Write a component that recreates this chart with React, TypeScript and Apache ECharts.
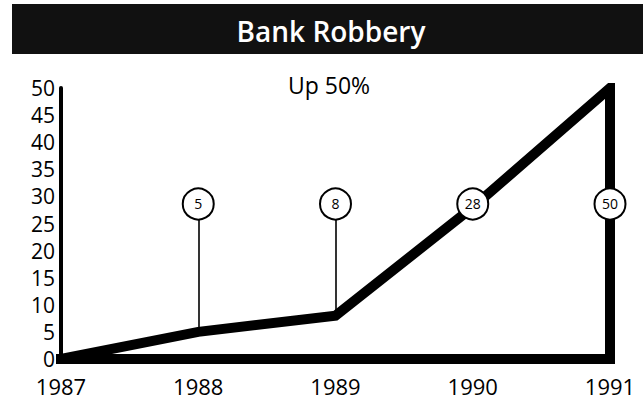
import React, { useEffect, useRef } from "react";
import * as echarts from "echarts";

const title = "Bank Robbery";
const subtitle = "Up 50%";
const years = ["1987", "1988", "1989", "1990", "1991"];
const robberies = [0, 5, 8, 28, 50];
const calloutYears = ["1988", "1989", "1990", "1991"];
const calloutValues = [5, 8, 28, 50];
const calloutLevel = 28.6;
const yMin = 0;
const yMax = 50;
const yStep = 5;

export default function App() {
  const ref = useRef<HTMLDivElement>(null);
  useEffect(() => {
    if (!ref.current) return;
    const chart = echarts.init(ref.current, null, { renderer: "svg" });
    const last = years.length - 1;
    const outline: any[] = years.map((y, i) => [y, robberies[i]]);
    outline.push([years[last], yMin]);
    outline.push([years[0], yMin]);

    const font = "Open Sans";
    chart.setOption({
      animation: false,
      backgroundColor: "#fff",
      grid: { left: 61, right: 33, top: 88, bottom: 41, containLabel: false },
      graphic: [
        {
          type: "rect",
          z: 0,
          shape: { x: 12, y: 4, width: 631, height: 50 },
          style: { fill: "#111" },
        },
        {
          type: "text",
          z: 10,
          x: 331,
          y: 31,
          style: {
            text: title,
            fill: "#fff",
            font: `600 28px "${font}"`,
            textAlign: "center",
            textVerticalAlign: "middle",
          },
        },
        {
          type: "text",
          z: 10,
          x: 329,
          y: 85,
          style: {
            text: subtitle,
            fill: "#000",
            font: `400 23px "${font}"`,
            textAlign: "center",
            textVerticalAlign: "middle",
          },
        },
      ],
      xAxis: {
        type: "category",
        data: years,
        boundaryGap: false,
        axisLine: { show: false },
        axisTick: { show: false },
        splitLine: { show: false },
        axisLabel: {
          color: "#000",
          fontFamily: font,
          fontSize: 22,
          lineHeight: 20,
          margin: 17,
        },
      },
      yAxis: {
        type: "value",
        min: yMin,
        max: yMax,
        interval: yStep,
        axisLine: { show: true, lineStyle: { color: "#000", width: 4 } },
        axisTick: { show: false },
        splitLine: { show: false },
        axisLabel: {
          color: "#000",
          fontFamily: font,
          fontSize: 21,
          lineHeight: 16,
          margin: 6,
        },
      },
      series: [
        {
          type: "line",
          z: 3,
          data: outline,
          symbol: "none",
          silent: true,
          lineStyle: { color: "#000", width: 10, join: "miter", cap: "square" },
        },
        {
          type: "line",
          z: 2,
          data: [],
          symbol: "none",
          silent: true,
          markLine: {
            silent: true,
            symbol: ["none", "none"],
            label: { show: false },
            lineStyle: { color: "#000", width: 1.6, type: "solid" },
            data: calloutYears.map((y, i) => [
              { coord: [y, calloutLevel] },
              { coord: [y, calloutValues[i]] },
            ]),
          },
        },
        {
          type: "scatter",
          z: 5,
          silent: true,
          data: calloutYears.map((y) => [y, calloutLevel]),
          symbol: "circle",
          symbolSize: 31,
          itemStyle: { color: "#fff", borderColor: "#000", borderWidth: 2, opacity: 1 },
          label: {
            show: true,
            position: "inside",
            color: "#000",
            fontFamily: font,
            fontSize: 14,
            fontWeight: 500,
            formatter: (p: any) => String(calloutValues[p.dataIndex]),
          },
        },
      ],
    });
    return () => chart.dispose();
  }, []);
  return (
    <div
      ref={ref}
      style={{ position: "fixed", left: 0, top: 0, width: 643, height: 400 }}
    />
  );
}
